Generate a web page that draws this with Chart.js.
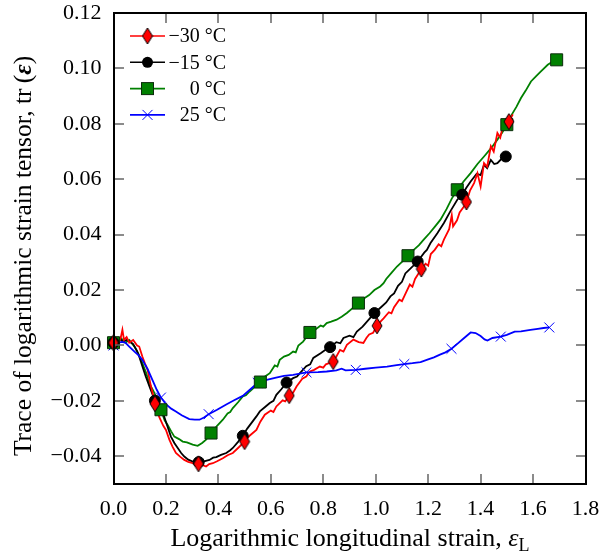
<!DOCTYPE html>
<html>
<head>
<meta charset="utf-8">
<script src="https://cdn.jsdelivr.net/npm/chart.js@4.4.1/dist/chart.umd.min.js"></script>
<style>
  html, body { margin: 0; padding: 0; background: #fff; }
</style>
</head>
<body>
<canvas id="chart" width="600" height="555"></canvas>
<script>
const xTicks = [0, 0.2, 0.4, 0.6, 0.8, 1.0, 1.2, 1.4, 1.6, 1.8];
const yTicks = [-0.04, -0.02, 0, 0.02, 0.04, 0.06, 0.08, 0.10, 0.12];
const seriesNames = ['\u221230 \u00b0C', '\u221215 \u00b0C', '0 \u00b0C', '25 \u00b0C'];

// -30 C curve
const xM30 = [0.000,0.008,0.018,0.028,0.034,0.040,0.050,0.060,0.075,0.090,0.098,0.110,0.120,0.130,0.140,0.150,0.158,0.175,0.190,0.200,0.213,0.225,0.238,0.255,0.270,0.285,0.302,0.324,0.340,0.353,0.365,0.379,0.395,0.417,0.435,0.455,0.475,0.500,0.520,0.545,0.560,0.577,0.600,0.610,0.621,0.645,0.655,0.670,0.685,0.698,0.720,0.735,0.749,0.765,0.787,0.800,0.810,0.838,0.850,0.864,0.877,0.890,0.915,0.935,0.953,0.965,0.975,0.990,1.005,1.020,1.030,1.050,1.060,1.070,1.090,1.100,1.110,1.130,1.140,1.150,1.174,1.190,1.200,1.210,1.225,1.240,1.250,1.260,1.280,1.290,1.295,1.310,1.320,1.335,1.346,1.360,1.375,1.388,1.400,1.413,1.425,1.439,1.450,1.464,1.475,1.490,1.508,1.523];
const yM30 = [0.0010,0.0020,0.0005,0.0030,0.0057,0.0020,0.0030,0.0010,0.0020,0.0000,-0.0004,-0.0040,-0.0065,-0.0088,-0.0135,-0.0175,-0.0210,-0.0260,-0.0290,-0.0305,-0.0340,-0.0365,-0.0388,-0.0402,-0.0413,-0.0420,-0.0425,-0.0427,-0.0432,-0.0437,-0.0428,-0.0425,-0.0418,-0.0407,-0.0396,-0.0388,-0.0370,-0.0347,-0.0325,-0.0305,-0.0275,-0.0250,-0.0235,-0.0240,-0.0220,-0.0198,-0.0202,-0.0181,-0.0170,-0.0148,-0.0120,-0.0112,-0.0094,-0.0088,-0.0076,-0.0080,-0.0068,-0.0058,-0.0040,-0.0016,-0.0022,0.0002,0.0021,0.0012,0.0009,0.0028,0.0040,0.0046,0.0071,0.0088,0.0098,0.0120,0.0116,0.0138,0.0165,0.0160,0.0180,0.0220,0.0212,0.0240,0.0276,0.0295,0.0288,0.0330,0.0345,0.0365,0.0358,0.0382,0.0420,0.0470,0.0430,0.0452,0.0480,0.0500,0.0518,0.0560,0.0586,0.0622,0.0574,0.0658,0.0645,0.0719,0.0700,0.0767,0.0750,0.0815,0.0808,0.0834];

// -15 C curve
const xM15 = [0.000,0.012,0.020,0.035,0.050,0.060,0.075,0.090,0.098,0.110,0.123,0.140,0.158,0.175,0.193,0.205,0.219,0.232,0.245,0.258,0.270,0.285,0.302,0.325,0.345,0.366,0.380,0.392,0.410,0.430,0.445,0.455,0.475,0.493,0.510,0.530,0.545,0.558,0.578,0.596,0.610,0.621,0.640,0.660,0.685,0.700,0.711,0.735,0.750,0.762,0.790,0.810,0.826,0.850,0.865,0.877,0.900,0.915,0.928,0.950,0.975,0.995,1.020,1.040,1.056,1.070,1.085,1.100,1.113,1.135,1.160,1.185,1.195,1.209,1.235,1.260,1.285,1.311,1.330,1.345,1.362,1.385,1.400,1.413,1.425,1.439,1.452,1.464,1.478,1.496];
const yM15 = [0.0010,0.0020,0.0027,0.0015,0.0020,0.0014,0.0005,-0.0020,-0.0040,-0.0075,-0.0112,-0.0155,-0.0199,-0.0228,-0.0256,-0.0290,-0.0329,-0.0352,-0.0370,-0.0388,-0.0401,-0.0412,-0.0419,-0.0421,-0.0418,-0.0413,-0.0405,-0.0403,-0.0395,-0.0388,-0.0378,-0.0370,-0.0348,-0.0326,-0.0300,-0.0275,-0.0256,-0.0238,-0.0222,-0.0208,-0.0200,-0.0178,-0.0158,-0.0134,-0.0118,-0.0112,-0.0100,-0.0075,-0.0068,-0.0045,-0.0028,-0.0015,-0.0006,0.0012,0.0008,0.0027,0.0035,0.0030,0.0050,0.0068,0.0095,0.0117,0.0138,0.0155,0.0177,0.0188,0.0215,0.0230,0.0260,0.0280,0.0303,0.0335,0.0345,0.0370,0.0405,0.0442,0.0485,0.0526,0.0544,0.0568,0.0592,0.0620,0.0615,0.0652,0.0640,0.0670,0.0655,0.0658,0.0672,0.0682];

// 0 C curve
const x0 = [0.000,0.010,0.020,0.030,0.045,0.060,0.080,0.095,0.110,0.125,0.136,0.150,0.162,0.181,0.195,0.206,0.220,0.232,0.250,0.264,0.280,0.302,0.321,0.338,0.353,0.372,0.395,0.417,0.435,0.445,0.455,0.475,0.493,0.505,0.519,0.540,0.560,0.578,0.596,0.615,0.625,0.634,0.650,0.668,0.685,0.695,0.705,0.723,0.749,0.770,0.790,0.800,0.813,0.830,0.851,0.870,0.890,0.912,0.934,0.955,0.975,0.995,1.017,1.030,1.040,1.060,1.081,1.100,1.123,1.145,1.165,1.183,1.205,1.225,1.247,1.270,1.290,1.311,1.335,1.362,1.388,1.413,1.440,1.464,1.482,1.500,1.520,1.537,1.554,1.572,1.592,1.610,1.630,1.656,1.675,1.690];
const y0 = [0.0010,0.0020,0.0015,0.0025,0.0010,0.0020,-0.0004,-0.0030,-0.0064,-0.0100,-0.0136,-0.0160,-0.0184,-0.0232,-0.0270,-0.0286,-0.0310,-0.0329,-0.0338,-0.0347,-0.0350,-0.0358,-0.0362,-0.0352,-0.0340,-0.0316,-0.0290,-0.0268,-0.0245,-0.0240,-0.0226,-0.0205,-0.0184,-0.0180,-0.0166,-0.0148,-0.0132,-0.0112,-0.0100,-0.0072,-0.0076,-0.0052,-0.0040,-0.0034,-0.0022,-0.0025,0.0000,0.0014,0.0047,0.0058,0.0072,0.0068,0.0081,0.0086,0.0093,0.0104,0.0117,0.0135,0.0153,0.0170,0.0182,0.0200,0.0213,0.0225,0.0240,0.0262,0.0285,0.0302,0.0324,0.0345,0.0362,0.0382,0.0405,0.0428,0.0454,0.0492,0.0530,0.0562,0.0592,0.0622,0.0655,0.0682,0.0712,0.0743,0.0768,0.0797,0.0835,0.0862,0.0893,0.0920,0.0953,0.0970,0.0989,0.1013,0.1025,0.1031];

// 25 C curve
const x25 = [0.000,0.015,0.030,0.045,0.060,0.080,0.095,0.110,0.130,0.150,0.165,0.181,0.200,0.220,0.238,0.260,0.289,0.310,0.328,0.345,0.363,0.395,0.430,0.460,0.493,0.520,0.550,0.580,0.620,0.650,0.685,0.736,0.780,0.813,0.850,0.870,0.885,0.924,0.960,1.000,1.043,1.080,1.109,1.140,1.171,1.200,1.222,1.245,1.266,1.289,1.310,1.335,1.362,1.381,1.400,1.415,1.426,1.445,1.477,1.500,1.530,1.554,1.590,1.618,1.640,1.662];
const y25 = [0.0000,0.0008,0.0013,0.0010,-0.0004,-0.0022,-0.0035,-0.0052,-0.0085,-0.0128,-0.0160,-0.0188,-0.0212,-0.0228,-0.0238,-0.0252,-0.0266,-0.0268,-0.0268,-0.0260,-0.0248,-0.0232,-0.0213,-0.0198,-0.0182,-0.0160,-0.0135,-0.0125,-0.0116,-0.0110,-0.0106,-0.0097,-0.0096,-0.0094,-0.0090,-0.0084,-0.0090,-0.0088,-0.0084,-0.0080,-0.0076,-0.0071,-0.0067,-0.0064,-0.0060,-0.0050,-0.0043,-0.0033,-0.0025,-0.0012,0.0005,0.0025,0.0047,0.0045,0.0034,0.0022,0.0018,0.0027,0.0032,0.0038,0.0050,0.0051,0.0056,0.0060,0.0063,0.0065];

// marker positions
const xM30m = [0.000,0.158,0.324,0.500,0.670,0.838,1.005,1.174,1.346,1.508];
const yM30m = [0.0010,-0.0210,-0.0427,-0.0347,-0.0181,-0.0058,0.0071,0.0276,0.0518,0.0808];
const xM15m = [0.000,0.158,0.325,0.493,0.660,0.826,0.995,1.160,1.330,1.496];
const yM15m = [0.0010,-0.0199,-0.0421,-0.0326,-0.0134,-0.0006,0.0117,0.0303,0.0544,0.0682];
const x0m = [0.000,0.181,0.372,0.560,0.749,0.934,1.123,1.311,1.500,1.690];
const y0m = [0.0010,-0.0232,-0.0316,-0.0132,0.0047,0.0153,0.0324,0.0562,0.0797,0.1031];
const x25m = [0.000,0.181,0.363,0.550,0.736,0.924,1.109,1.289,1.477,1.662];
const y25m = [0.0000,-0.0188,-0.0248,-0.0135,-0.0097,-0.0088,-0.0067,-0.0012,0.0032,0.0065];

const pts = (xs, ys) => xs.map((x, i) => ({ x: x, y: ys[i] }));

function diamondImg() {
  const c = document.createElement('canvas');
  c.width = 12; c.height = 18;
  const g = c.getContext('2d');
  g.beginPath();
  g.moveTo(6, 1); g.lineTo(11, 9); g.lineTo(6, 17); g.lineTo(1, 9);
  g.closePath();
  g.fillStyle = '#ff0000'; g.fill();
  g.strokeStyle = '#000'; g.lineWidth = 1; g.stroke();
  return c;
}
const diamond = diamondImg();

const FONT = '"Liberation Serif", "Times New Roman", serif';

const markerSets = [
  { data: pts(xM30m, yM30m), pointStyle: diamond, pointRadius: 8, bg: '#ff0000', bc: '#000000' },
  { data: pts(xM15m, yM15m), pointStyle: 'circle', pointRadius: 5.5, bg: '#000000', bc: '#000000' },
  { data: pts(x0m, y0m), pointStyle: 'rect', pointRadius: 8.5, bg: '#008000', bc: '#0b2b0b' },
  { data: pts(x25m, y25m), pointStyle: 'crossRot', pointRadius: 7, bg: '#0000ff', bc: '#0000ff' }
];

const lineSets = [
  { data: pts(xM30, yM30), color: '#ff0000' },
  { data: pts(xM15, yM15), color: '#000000' },
  { data: pts(x0, y0), color: '#008000' },
  { data: pts(x25, y25), color: '#0000ff' }
];

const datasets = [];
markerSets.forEach((m, i) => {
  datasets.push({
    label: seriesNames[i] + ' markers',
    data: m.data,
    showLine: false,
    clip: false,
    pointStyle: m.pointStyle,
    pointRadius: m.pointRadius,
    pointHoverRadius: m.pointRadius,
    pointBackgroundColor: m.bg,
    pointBorderColor: m.bc,
    pointBorderWidth: 1
  });
});
// blue on top of the others near the start
[3, 0, 1, 2].forEach(i => {
  datasets.push({
    label: seriesNames[i],
    data: lineSets[i].data,
    showLine: true,
    clip: false,
    borderColor: lineSets[i].color,
    borderWidth: 1.8,
    pointRadius: 0,
    pointHoverRadius: 0,
    tension: 0
  });
});

// frame, inward ticks, legend and axis titles
const decor = {
  id: 'decor',
  afterDraw(chart) {
    const ctx = chart.ctx;
    const xs = chart.scales.x, ys = chart.scales.y;
    const L = Math.round(xs.left), R = Math.round(xs.right);
    const T = Math.round(ys.top), B = Math.round(ys.bottom);
    ctx.save();
    // tick marks as thin filled rects
    ctx.fillStyle = '#666666';
    xTicks.forEach(v => {
      const px = Math.round(xs.getPixelForValue(v));
      ctx.fillRect(px - 0.75, B - 10, 1.5, 10);
      ctx.fillRect(px - 0.75, T, 1.5, 10);
    });
    yTicks.forEach(v => {
      const py = Math.round(ys.getPixelForValue(v));
      ctx.fillRect(L, py - 0.75, 10, 1.5);
      ctx.fillRect(R - 10, py - 0.75, 10, 1.5);
    });
    ctx.fillStyle = '#000000';
    ctx.fillRect(L - 1, T - 1, R - L + 2, 2);
    ctx.fillRect(L - 1, B - 1, R - L + 2, 2);
    ctx.fillRect(L - 1, T - 1, 2, B - T + 2);
    ctx.fillRect(R - 1, T - 1, 2, B - T + 2);

    // legend
    const colors = ['#ff0000', '#000000', '#008000', '#0000ff'];
    ctx.font = '20px ' + FONT;
    ctx.textBaseline = 'middle';
    ctx.textAlign = 'right';
    for (let i = 0; i < 4; i++) {
      const y = 36 + i * 26.3;
      ctx.strokeStyle = colors[i];
      ctx.lineWidth = 1.6;
      ctx.beginPath(); ctx.moveTo(130, y); ctx.lineTo(165, y); ctx.stroke();
      const cx = 147.5;
      ctx.lineWidth = 1;
      if (i === 0) {
        ctx.drawImage(diamond, cx - 6, y - 9);
      } else if (i === 1) {
        ctx.fillStyle = '#000';
        ctx.beginPath(); ctx.arc(cx, y, 5.5, 0, Math.PI * 2); ctx.fill();
      } else if (i === 2) {
        ctx.fillStyle = '#008000';
        ctx.fillRect(cx - 6, y - 6, 12, 12);
        ctx.strokeStyle = '#0b2b0b';
        ctx.strokeRect(cx - 6, y - 6, 12, 12);
      } else {
        ctx.strokeStyle = '#0000ff';
        ctx.beginPath();
        ctx.moveTo(cx - 5, y - 5); ctx.lineTo(cx + 5, y + 5);
        ctx.moveTo(cx - 5, y + 5); ctx.lineTo(cx + 5, y - 5);
        ctx.stroke();
      }
      ctx.fillStyle = '#000';
      ctx.fillText(seriesNames[i], 226, y + 1);
    }

    // x title with italic epsilon and subscript L
    ctx.fillStyle = '#000';
    ctx.textBaseline = 'alphabetic';
    ctx.textAlign = 'left';
    const tf = '26px ' + FONT;
    const part1 = 'Logarithmic longitudinal strain, ';
    ctx.font = tf;
    const w1 = ctx.measureText(part1).width;
    ctx.font = 'italic ' + tf;
    const we = ctx.measureText('\u03b5').width;
    ctx.font = '18px ' + FONT;
    const wl = ctx.measureText('L').width;
    const total = w1 + we + wl;
    const sx0 = (L + R) / 2 - total / 2;
    const by = 546;
    ctx.font = tf; ctx.fillText(part1, sx0, by);
    ctx.font = 'italic ' + tf; ctx.fillText('\u03b5', sx0 + w1, by);
    ctx.font = '18px ' + FONT; ctx.fillText('L', sx0 + w1 + we, by + 5);

    // y title, rotated
    ctx.save();
    ctx.translate(31, 256);
    ctx.rotate(-Math.PI / 2);
    const p1 = 'Trace of logarithmic strain tensor, tr\u2009(';
    const p3 = ')';
    const yf = '25.5px ' + FONT;
    ctx.font = yf;
    const a1 = ctx.measureText(p1).width;
    const a3 = ctx.measureText(p3).width;
    ctx.font = 'bold italic ' + yf;
    const a2 = ctx.measureText('\u03b5').width;
    const tw = a1 + a2 + a3;
    const sx = -tw / 2;
    ctx.font = yf; ctx.fillText(p1, sx, 0);
    ctx.font = 'bold italic ' + yf; ctx.fillText('\u03b5', sx + a1, 0);
    ctx.font = yf; ctx.fillText(p3, sx + a1 + a2, 0);
    ctx.restore();
    ctx.restore();
  }
};

// keep the plot box where the reference has it, whatever the label overhang
function noOverhang(s) {
  s.paddingLeft = 0; s.paddingRight = 0; s.paddingTop = 0; s.paddingBottom = 0;
}

new Chart(document.getElementById('chart'), {
  type: 'scatter',
  data: { datasets: datasets },
  options: {
    responsive: false,
    animation: false,
    devicePixelRatio: 1,
    layout: { padding: { top: 13, right: 14.5, left: 0, bottom: 0 } },
    plugins: {
      legend: { display: false },
      tooltip: { enabled: false }
    },
    scales: {
      x: {
        type: 'linear',
        min: 0, max: 1.8,
        grid: { display: false, drawTicks: false },
        border: { display: false },
        afterFit(s) { s.height = 71; noOverhang(s); },
        afterBuildTicks(s) { s.ticks = xTicks.map(v => ({ value: v })); },
        ticks: {
          padding: 12,
          color: '#000',
          font: { family: FONT, size: 22 },
          maxRotation: 0,
          callback: v => v.toFixed(1)
        }
      },
      y: {
        type: 'linear',
        min: -0.05, max: 0.12,
        grid: { display: false, drawTicks: false },
        border: { display: false },
        afterFit(s) { s.width = 113.5; noOverhang(s); },
        afterBuildTicks(s) { s.ticks = yTicks.map(v => ({ value: v })); },
        ticks: {
          padding: 12,
          color: '#000',
          font: { family: FONT, size: 22 },
          callback: v => v.toFixed(2).replace('-', '\u2212')
        }
      }
    }
  },
  plugins: [decor]
});
</script>
</body>
</html>
